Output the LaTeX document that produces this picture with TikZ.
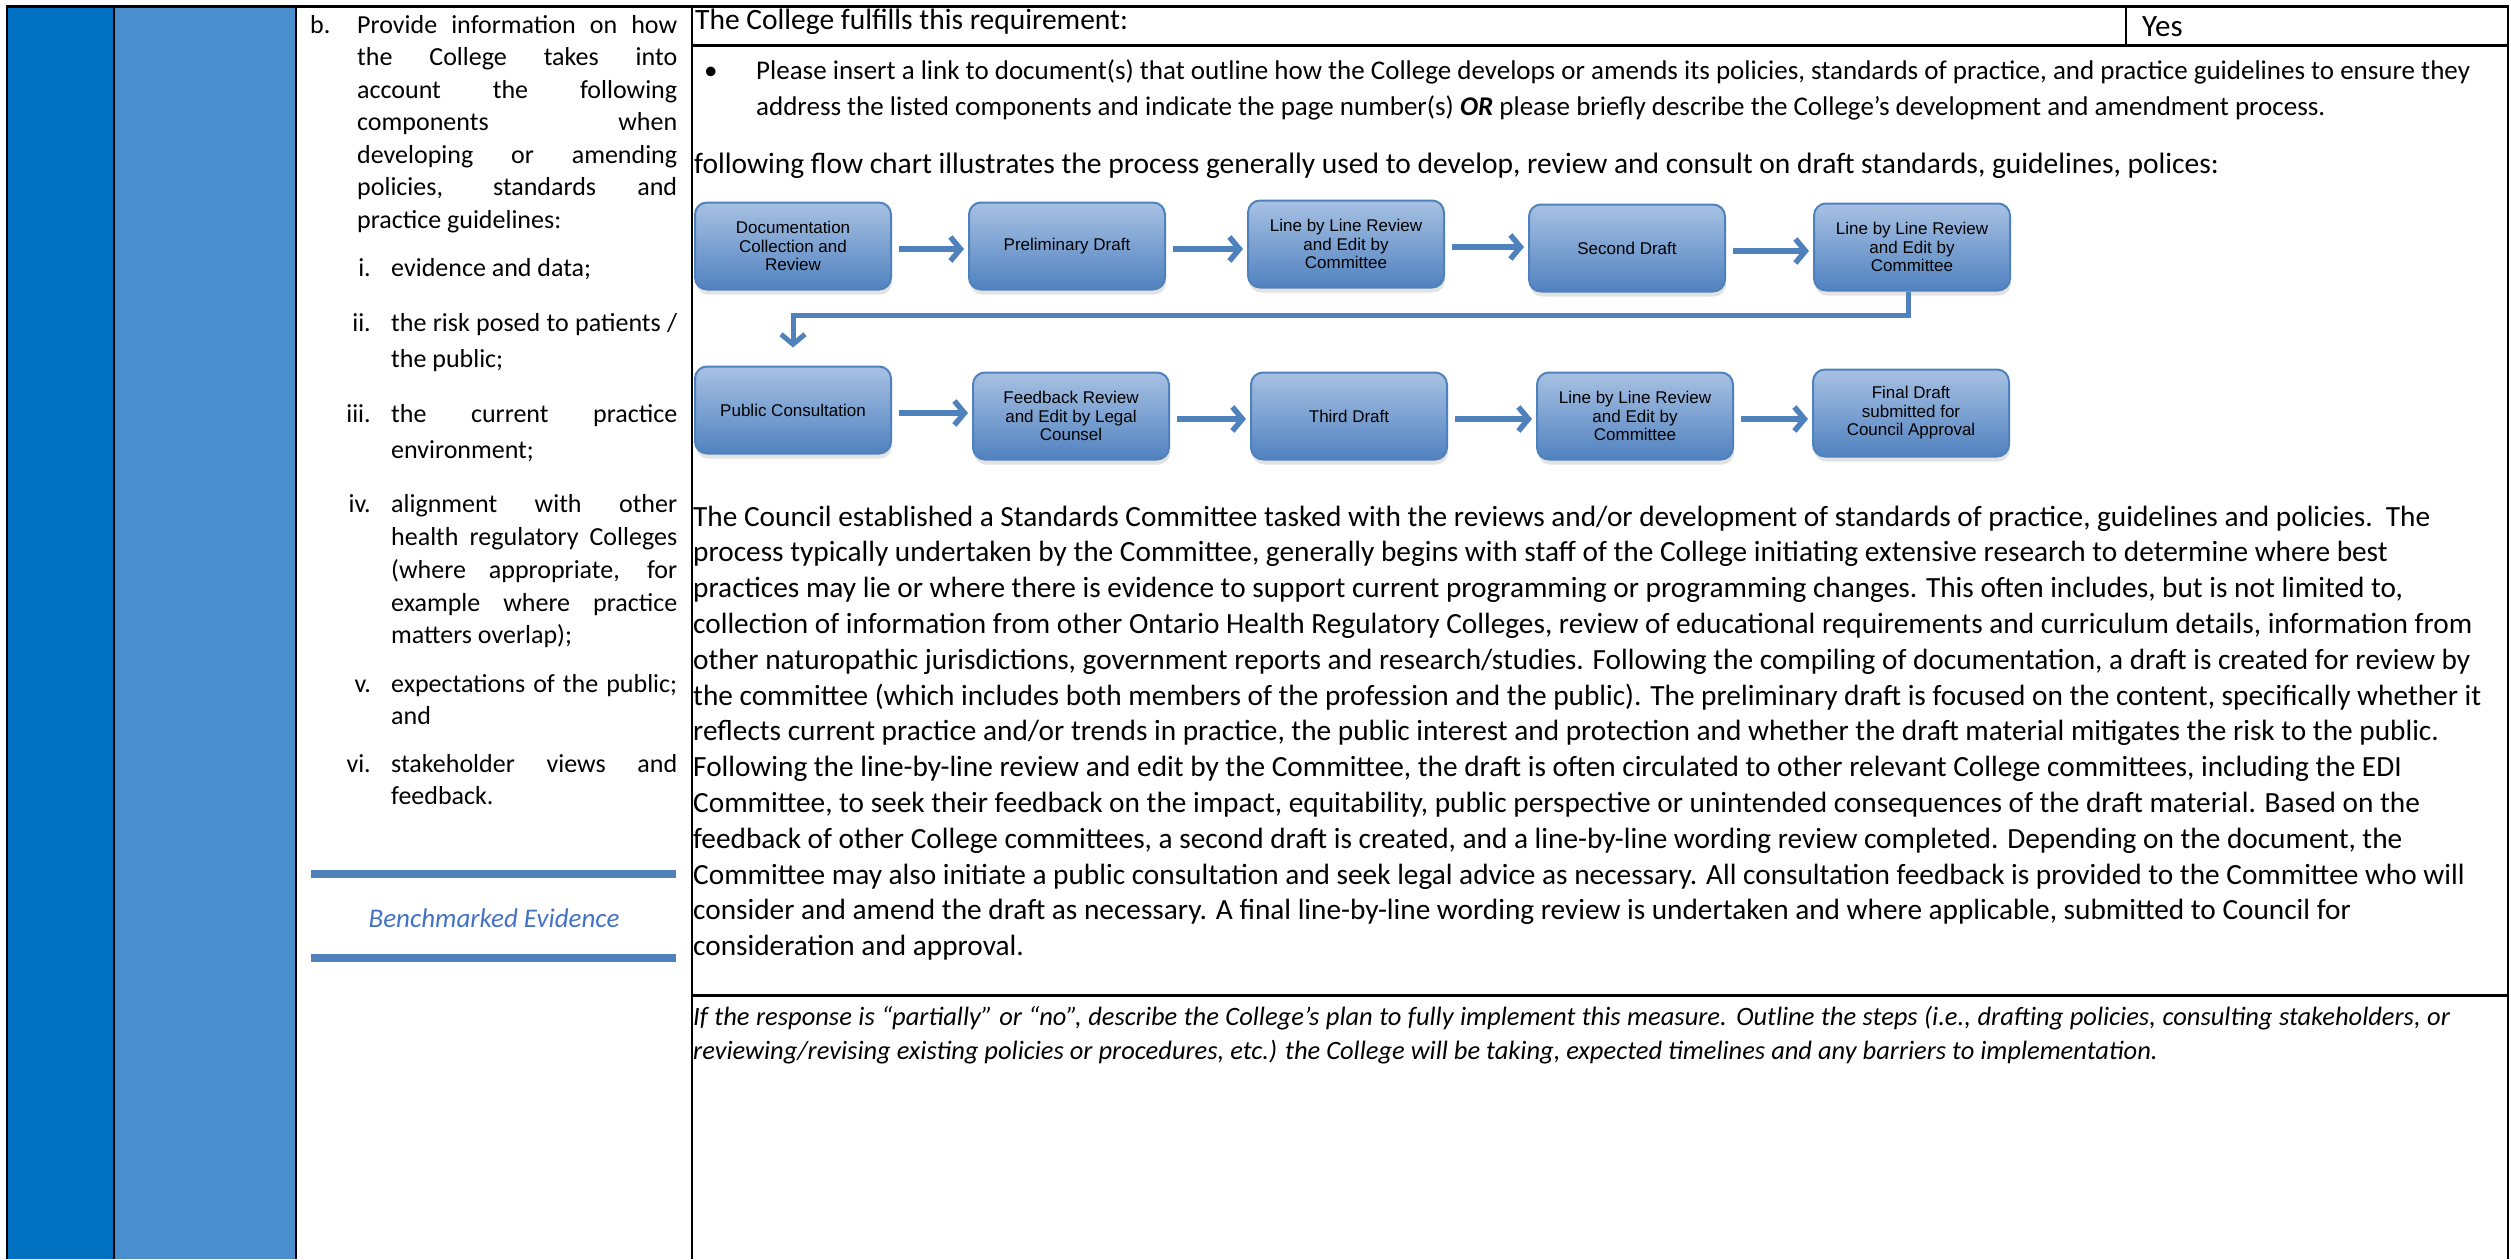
\documentclass[tikz,border=0pt]{standalone}
\usepackage{fontspec}
\setmainfont{Carlito}
\newfontfamily\arialf{Liberation Sans}
\usetikzlibrary{arrows.meta,shadows}
\definecolor{dkblue}{RGB}{0,112,192}
\definecolor{ltblue}{RGB}{74,142,205}
\definecolor{accent}{RGB}{79,129,189}
\definecolor{boxtop}{RGB}{168,193,227}
\definecolor{boxbot}{RGB}{80,130,192}
\definecolor{bench}{RGB}{68,114,196}
\tikzset{
  flowbox/.style={draw=accent, line width=2pt, rounded corners=12pt,
    top color=boxtop, bottom color=boxbot, minimum width=196pt, minimum height=87pt,
    align=center, font=\arialf\fontsize{17}{18.5}\selectfont, inner sep=2pt,
    drop shadow={opacity=0.22, shadow xshift=1pt, shadow yshift=-5pt}},
  flowarrow/.style={draw=accent, line width=5.5pt, -{Straight Barb[length=10pt,width=24pt]}},
  rule/.style={line width=2pt, draw=black},
  txt/.style={anchor=base west, inner sep=0pt, font=\fontsize{26}{32}\selectfont},
  headtxt/.style={anchor=base west, inner sep=0pt, font=\fontsize{29.5}{34}\selectfont},
  bodytxt/.style={anchor=base west, inner sep=0pt, font=\fontsize{29.3}{34}\selectfont},
  smalltxt/.style={anchor=base west, inner sep=0pt, font=\fontsize{27}{31}\selectfont},
  lbl/.style={anchor=base east, inner sep=0pt, font=\fontsize{26}{32}\selectfont},
  notetxt/.style={anchor=base west, inner sep=0pt, font=\fontsize{26.5}{31}\selectfont\itshape},
}
\newcommand{\jb}[1]{\makebox[320pt][s]{#1}}
\newcommand{\ji}[1]{\makebox[286pt][s]{#1}}
\begin{document}
\begin{tikzpicture}[x=1pt,y=-1pt]
\useasboundingbox (0,0) rectangle (2511,1259);
% table columns
\fill[dkblue] (7,6) rectangle (114,1259);
\fill[ltblue] (114,6) rectangle (296,1259);
\draw[rule] (7,1259) -- (7,6);
\draw[rule] (114,6) -- (114,1259);
\draw[rule] (296,6) -- (296,1259);
\draw[rule] (692,6) -- (692,1259);
\draw[rule] (2508,6) -- (2508,1259);
\draw[rule, line width=3pt] (6,6) -- (2509,6);
\draw[rule, line width=3pt] (692,45) -- (2509,45);
\draw[rule] (2126,6) -- (2126,45);
\draw[rule, line width=3pt] (692,995) -- (2509,995);

% left text column
\node[lbl, anchor=base west] (bl) at (310,33) {b.};
\node[txt] (b1) at (357,33) {\jb{Provide information on how}};
\node[txt] (b2) at (357,65.5) {\jb{the College takes into}};
\node[txt] (b3) at (357,98) {\jb{account the following}};
\node[txt] (b4) at (357,130.5) {\jb{components when}};
\node[txt] (b5) at (357,163) {\jb{developing or amending}};
\node[txt] (b6) at (357,195.5) {\jb{policies, standards and}};
\node[txt] (b7) at (357,228) {practice guidelines:};

\node[lbl] (l1) at (371,276) {i.};
\node[txt] (i1) at (391,276) {evidence and data;};
\node[lbl] (l2) at (371,331) {ii.};
\node[txt] (i2a) at (391,331) {\ji{the risk posed to patients /}};
\node[txt] (i2b) at (391,367) {the public;};
\node[lbl] (l3) at (371,422) {iii.};
\node[txt] (i3a) at (391,422) {\ji{the current practice}};
\node[txt] (i3b) at (391,458) {environment;};
\node[lbl] (l4) at (371,512) {iv.};
\node[txt] (i4a) at (391,512) {\ji{alignment with other}};
\node[txt] (i4b) at (391,545) {\ji{health regulatory Colleges}};
\node[txt] (i4c) at (391,578) {\ji{(where appropriate, for}};
\node[txt] (i4d) at (391,611) {\ji{example where practice}};
\node[txt] (i4e) at (391,643) {matters overlap);};
\node[lbl] (l5) at (371,692) {v.};
\node[txt] (i5a) at (391,692) {\ji{expectations of the public;}};
\node[txt] (i5b) at (391,724) {and};
\node[lbl] (l6) at (371,772) {vi.};
\node[txt] (i6a) at (391,772) {\ji{stakeholder views and}};
\node[txt] (i6b) at (391,804) {feedback.};

\fill[accent] (311,870) rectangle (676,878);
\node[anchor=base, inner sep=0pt, text=bench, font=\fontsize{27}{31}\selectfont\itshape] (bench) at (494,927) {Benchmarked Evidence};
\fill[accent] (311,954) rectangle (676,962);

% right column header texts
\node[headtxt] (fulfil) at (695,29) {The College fulfills this requirement:};
\node[anchor=base west, inner sep=0pt, font=\fontsize{31}{35}\selectfont] (yes) at (2142,36) {Yes};
\node[smalltxt] (bullet) at (704,79) {•};
\node[smalltxt] (req1) at (756,79) {Please insert a link to document(s) that outline how the College develops or amends its policies, standards of practice, and practice guidelines to ensure they};
\node[smalltxt] (req2) at (756,115) {address the listed components and indicate the page number(s) \textbf{\textit{OR}} please briefly describe the College’s development and amendment process.};
\node[headtxt] (intro) at (694,173) {following flow chart illustrates the process generally used to develop, review and consult on draft standards, guidelines, polices:};

% flow chart
\node[flowbox] (f1) at (793,246) {Documentation\\Collection and\\Review};
\node[flowbox] (f2) at (1067,246) {Preliminary Draft};
\node[flowbox] (f3) at (1346,244) {Line by Line Review\\and Edit by\\Committee};
\node[flowbox] (f4) at (1627,248) {Second Draft};
\node[flowbox] (f5) at (1912,247) {Line by Line Review\\and Edit by\\Committee};
\node[flowbox] (f6) at (793,410) {Public Consultation};
\node[flowbox] (f7) at (1071,416) {Feedback Review\\and Edit by Legal\\Counsel};
\node[flowbox] (f8) at (1349,416) {Third Draft};
\node[flowbox] (f9) at (1635,416) {Line by Line Review\\and Edit by\\Committee};
\node[flowbox] (f10) at (1911,413) {Final Draft\\submitted for\\Council Approval};

\foreach \a/\b in {f1/f2,f2/f3,f3/f4,f4/f5,f6/f7,f7/f8,f8/f9,f9/f10}
  \draw[flowarrow, shorten <=7pt, shorten >=4pt] ([yshift=-3pt]\a.east) -- ([yshift=-3pt]\a.east -| \b.west);
\draw[flowarrow, line width=5pt, shorten >=18pt] ([xshift=-4pt]f5.south) -- ++(0,24) -| (f6.north);

% body paragraph
\foreach \t [count=\i] in {
{The Council established a Standards Committee tasked with the reviews and/or development of standards of practice, guidelines and policies.\ \ The},
{process typically undertaken by the Committee, generally begins with staff of the College initiating extensive research to determine where best},
{practices may lie or where there is evidence to support current programming or programming changes. This often includes, but is not limited to,},
{collection of information from other Ontario Health Regulatory Colleges, review of educational requirements and curriculum details, information from},
{other naturopathic jurisdictions, government reports and research/studies. Following the compiling of documentation, a draft is created for review by},
{the committee (which includes both members of the profession and the public). The preliminary draft is focused on the content, specifically whether it},
{reflects current practice and/or trends in practice, the public interest and protection and whether the draft material mitigates the risk to the public.},
{Following the line-by-line review and edit by the Committee, the draft is often circulated to other relevant College committees, including the EDI},
{Committee, to seek their feedback on the impact, equitability, public perspective or unintended consequences of the draft material. Based on the},
{feedback of other College committees, a second draft is created, and a line-by-line wording review completed. Depending on the document, the},
{Committee may also initiate a public consultation and seek legal advice as necessary. All consultation feedback is provided to the Committee who will},
{consider and amend the draft as necessary. A final line-by-line wording review is undertaken and where applicable, submitted to Council for},
{consideration and approval.}}
  \node[bodytxt] (body\i) at (693,{526+35.8*(\i-1)}) {\t};

% italic note
\node[notetxt] (note1) at (693,1025) {\makebox[1757pt][s]{If the response is “partially” or “no”, describe the College’s plan to fully implement this measure. Outline the steps (i.e., drafting policies, consulting stakeholders, or}};
\node[notetxt] (note2) at (693,1059) {reviewing/revising existing policies or procedures, etc.) the College will be taking, expected timelines and any barriers to implementation.};
\end{tikzpicture}
\end{document}
